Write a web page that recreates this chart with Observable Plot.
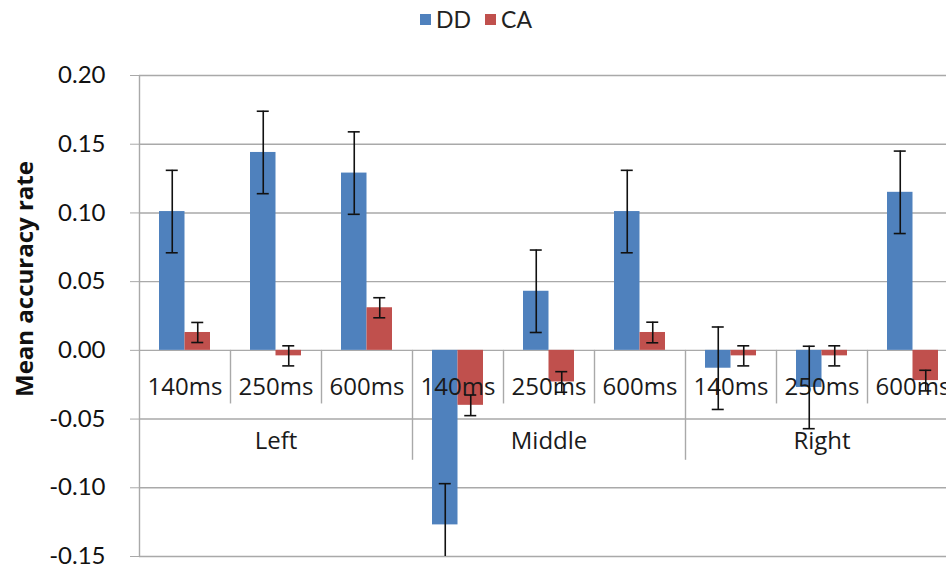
<!DOCTYPE html>
<html>
<head>
<meta charset="utf-8">
<script src="https://cdn.jsdelivr.net/npm/d3@7"></script>
<script src="https://cdn.jsdelivr.net/npm/@observablehq/plot@0.6"></script>
<style>
  html, body { margin: 0; padding: 0; background: #fff; }
  #wrap { width: 946px; height: 572px; overflow: hidden; position: relative; }
  #legend { height: 38px; display: flex; justify-content: center; align-items: center;
            font-family: Lato, "Open Sans", sans-serif; font-size: 23px; color: #222; padding-left: 6px; box-sizing: border-box; }
  #legend .item { display: flex; align-items: center; margin: 0 7px; }
  #legend .sw { width: 11px; height: 11px; margin-right: 5px; }
  #chart svg { overflow: hidden; display: block; }
</style>
</head>
<body>
<div id="wrap">
  <div id="legend"></div>
  <div id="chart"></div>
</div>
<script>
// ---- data ----
const groups = ["Left", "Middle", "Right"];
const delays = ["140ms", "250ms", "600ms"];
const series = ["DD", "CA"];
const colors = ["#4F81BD", "#C0504D"];
const ddMean = [0.101, 0.144, 0.129, -0.127, 0.043, 0.101, -0.013, -0.027, 0.115];
const ddErr  = [0.030, 0.030, 0.030, 0.030, 0.030, 0.030, 0.030, 0.030, 0.030];
const caMean = [0.013, -0.004, 0.031, -0.040, -0.023, 0.013, -0.004, -0.004, -0.022];
const caErr  = [0.0073, 0.0073, 0.0073, 0.0075, 0.0075, 0.0075, 0.0073, 0.0073, 0.0075];
const yTicks = [-0.15, -0.10, -0.05, 0.00, 0.05, 0.10, 0.15, 0.20];
const yTitle = "Mean accuracy rate";

// ---- build table ----
const rows = [];
groups.forEach((g, gi) => delays.forEach((t, ti) => {
  const i = gi * delays.length + ti;
  rows.push({group: g, delay: t, key: g + "|" + t, ti, gi,
             dd: ddMean[i], ddE: ddErr[i], ca: caMean[i], caE: caErr[i]});
}));
const keys = rows.map(d => d.key);

// error-bar caps, one list per series
const capsDD = rows.flatMap(d => [{key: d.key, y: d.dd - d.ddE}, {key: d.key, y: d.dd + d.ddE}]);
const capsCA = rows.flatMap(d => [{key: d.key, y: d.ca - d.caE}, {key: d.key, y: d.ca + d.caE}]);

// legend
const leg = document.getElementById("legend");
series.forEach((s, i) => {
  const it = document.createElement("div"); it.className = "item";
  it.innerHTML = `<div class="sw" style="background:${colors[i]}"></div><span>${s}</span>`;
  leg.appendChild(it);
});

const grid = "#a9a9a9";
const W = 946, H = 534;
const band = 91; // band width of one category (819px / 9)
const half = band / 2;
const off = 12.75; // half bar width: bar centre offset from category centre

const chart = Plot.plot({
  width: W,
  height: H,
  marginLeft: 139,
  marginRight: -12,
  marginTop: 37,
  marginBottom: 16,
  style: {background: "#fff", overflow: "hidden"},
  x: {domain: keys, padding: 0, axis: null},
  y: {domain: [-0.15, 0.20], ticks: yTicks},
  marks: [
    Plot.ruleY(yTicks, {stroke: grid, strokeWidth: 1.4}),
    Plot.axisY({ticks: yTicks, tickSize: 9, tickPadding: 25, stroke: grid,
                tickFormat: d => d.toFixed(2), fontSize: 24, fill: "#111",
                fontFamily: "Lato, 'Open Sans', sans-serif", label: null}),
    // y axis line
    Plot.ruleX([keys[0]], {x: d => d, y1: -0.15, y2: 0.20, dx: -half, stroke: grid, strokeWidth: 1.4}),
    // bars
    Plot.barY(rows, {x: "key", y: "dd", fill: colors[0], insetLeft: 20, insetRight: 45.5}),
    Plot.barY(rows, {x: "key", y: "ca", fill: colors[1], insetLeft: 45.5, insetRight: 20}),
    // category separators
    Plot.ruleX(rows.filter(d => d.ti > 0), {x: "key", y1: 0, y2: -0.039, dx: -half, stroke: grid, strokeWidth: 1.4}),
    Plot.ruleX(rows.filter(d => d.ti === 0 && d.gi > 0), {x: "key", y1: 0, y2: -0.08, dx: -half, stroke: grid, strokeWidth: 1.4}),
    // category labels
    Plot.text(rows, {x: "key", y: () => 0, dy: 37, text: "delay", fontSize: 24, fill: "#1a1a1a",
                     fontFamily: "'Open Sans', sans-serif", lineAnchor: "middle"}),
    Plot.text(groups, {x: g => g + "|" + delays[1], y: () => 0, dy: 91, text: d => d, fontSize: 24, fill: "#1a1a1a",
                       fontFamily: "'Open Sans', sans-serif", lineAnchor: "middle"}),
    // error bars
    Plot.ruleX(rows, {x: "key", y1: d => d.dd - d.ddE, y2: d => d.dd + d.ddE, dx: -off, stroke: "#111", strokeWidth: 1.6, clip: true}),
    Plot.ruleX(rows, {x: "key", y1: d => d.ca - d.caE, y2: d => d.ca + d.caE, dx: off, stroke: "#111", strokeWidth: 1.6, clip: true}),
    Plot.tickY(capsDD, {x: "key", y: "y", dx: -off, insetLeft: half - 6, insetRight: half - 6,
                        stroke: "#111", strokeWidth: 1.6, clip: true}),
    Plot.tickY(capsCA, {x: "key", y: "y", dx: off, insetLeft: half - 6, insetRight: half - 6,
                        stroke: "#111", strokeWidth: 1.6, clip: true}),
    // y title
    Plot.text([yTitle], {frameAnchor: "left", textAnchor: "middle", dx: -114, dy: -37, rotate: -90, text: d => d,
                         fontSize: 24, fontWeight: "bold", fill: "#111",
                         fontFamily: "'Open Sans', sans-serif"})
  ]
});
document.getElementById("chart").appendChild(chart);
</script>
</body>
</html>
